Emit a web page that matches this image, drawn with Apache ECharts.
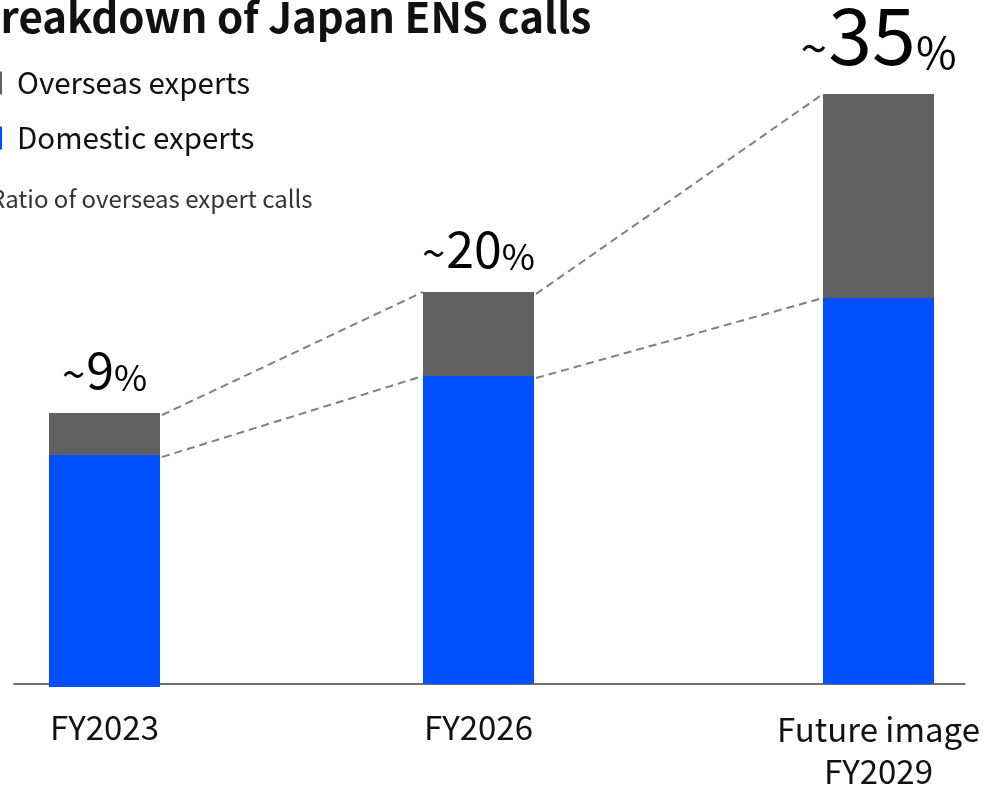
<!DOCTYPE html>
<html>
<head>
<meta charset="utf-8">
<title>Breakdown of Japan ENS calls</title>
<script src="https://cdn.jsdelivr.net/npm/echarts@6/dist/echarts.min.js"></script>
<style>
  html, body { margin: 0; padding: 0; background: #ffffff; }
  #chart { width: 987px; height: 787px; }
</style>
</head>
<body>
<div id="chart"></div>
<script>
// Call volume index per period, split by where the answering expert sits
const categories = ['FY2023', 'FY2026', 'Future image\nFY2029'];
const domesticCalls = [116, 154, 193];
const overseasCalls = [21, 42, 102];
const overseasShare = ['9', '20', '35'];
const seriesNames = ['Overseas experts', 'Domestic experts'];
const titleText = 'Breakdown of Japan ENS calls';
const noteText = 'Ratio of overseas expert calls';

const totals = domesticCalls.map((d, i) => d + overseasCalls[i]);

// Layout: one narrow grid per period so the columns can sit at uneven spacing
const FONT = '"Noto Sans CJK JP", "Noto Sans", sans-serif';
const BAR_WIDTH = 111;
const barCenters = [104.5, 478.5, 878.5];
const gridTops = [87, 84, 84];
const labelMargins = [19, 22, 24];
const PLOT_HEIGHT = 600;
const Y_MAX = 300;
const COLOR_OVERSEAS = '#606060';
const COLOR_DOMESTIC = '#0050ff';

const chart = echarts.init(document.getElementById('chart'), null, { renderer: 'canvas' });

const grids = [];
const xAxes = [];
const yAxes = [];
const series = [];

categories.forEach((cat, i) => {
  grids.push({
    left: barCenters[i] - 70, width: 140, top: gridTops[i], height: PLOT_HEIGHT,
    outerBoundsMode: 'none', containLabel: false
  });
  xAxes.push({
    type: 'category', gridIndex: i, data: [cat],
    axisLine: { show: false }, axisTick: { show: false },
    axisLabel: {
      fontFamily: FONT, fontSize: 33, color: '#111111', lineHeight: 42,
      margin: labelMargins[i], interval: 0
    }
  });
  yAxes.push({
    type: 'value', gridIndex: i, min: 0, max: Y_MAX,
    show: false, splitLine: { show: false }
  });
  const big = i === categories.length - 1;
  series.push({
    name: seriesNames[1], type: 'bar', stack: 'calls' + i,
    xAxisIndex: i, yAxisIndex: i, barWidth: BAR_WIDTH,
    itemStyle: { color: COLOR_DOMESTIC },
    data: [domesticCalls[i]], z: 3
  });
  series.push({
    name: seriesNames[0], type: 'bar', stack: 'calls' + i,
    xAxisIndex: i, yAxisIndex: i, barWidth: BAR_WIDTH,
    itemStyle: { color: COLOR_OVERSEAS },
    data: [overseasCalls[i]], z: 3,
    label: {
      show: true, position: 'top', distance: big ? 20 : 18,
      formatter: () => '{t|~}{n|' + overseasShare[i] + '}{p|%}',
      rich: {
        t: { fontFamily: FONT, fontSize: big ? 48 : 42, color: '#000', verticalAlign: 'bottom', padding: [0, 1, big ? 2 : 0, 0] },
        n: { fontFamily: FONT, fontSize: big ? 79 : 50, color: '#000', verticalAlign: 'bottom' },
        p: { fontFamily: FONT, fontSize: big ? 44 : 36, color: '#000', verticalAlign: 'bottom' }
      }
    }
  });
});

// Full-width baseline shared by all columns
grids.push({ left: 14, right: 22, top: 84, height: PLOT_HEIGHT, outerBoundsMode: 'none' });
xAxes.push({
  type: 'category', gridIndex: categories.length, data: [],
  axisLine: { show: true, lineStyle: { color: '#404040', width: 1.5 } },
  axisTick: { show: false }, axisLabel: { show: false }
});
yAxes.push({ type: 'value', gridIndex: categories.length, min: 0, max: Y_MAX, show: false });

chart.setOption({
  animation: false,
  backgroundColor: '#ffffff',
  title: [
    {
      text: titleText, left: -33, top: -9,
      textStyle: { fontFamily: FONT, fontSize: 42, fontWeight: 'bold', color: '#111111' }
    },
    {
      text: noteText, left: -15, top: 182,
      textStyle: { fontFamily: FONT, fontSize: 24, fontWeight: 'normal', color: '#333333' }
    }
  ],
  legend: {
    data: seriesNames, orient: 'vertical', left: -26, top: 62,
    icon: 'rect', itemWidth: 23, itemHeight: 23, itemGap: 23,
    selectedMode: false,
    textStyle: { fontFamily: FONT, fontSize: 29.5, color: '#111111', lineHeight: 32, padding: [0, 0, 0, 10] }
  },
  grid: grids,
  xAxis: xAxes,
  yAxis: yAxes,
  series: series
});

// Dashed guides joining the column tops and the domestic/overseas boundaries
function connectorLines() {
  const half = BAR_WIDTH / 2;
  const lines = [];
  for (let i = 0; i < categories.length - 1; i++) {
    [totals, domesticCalls].forEach((level) => {
      const a = chart.convertToPixel({ gridIndex: i }, [categories[i], level[i]]);
      const b = chart.convertToPixel({ gridIndex: i + 1 }, [categories[i + 1], level[i + 1]]);
      lines.push({
        type: 'line', z: 1,
        shape: { x1: a[0] + half + 2, y1: a[1] + 2, x2: b[0] - half, y2: b[1] },
        style: { stroke: '#808080', lineWidth: 2, lineDash: [8, 5] }
      });
    });
  }
  return lines;
}

chart.setOption({ graphic: connectorLines() });
</script>
</body>
</html>
